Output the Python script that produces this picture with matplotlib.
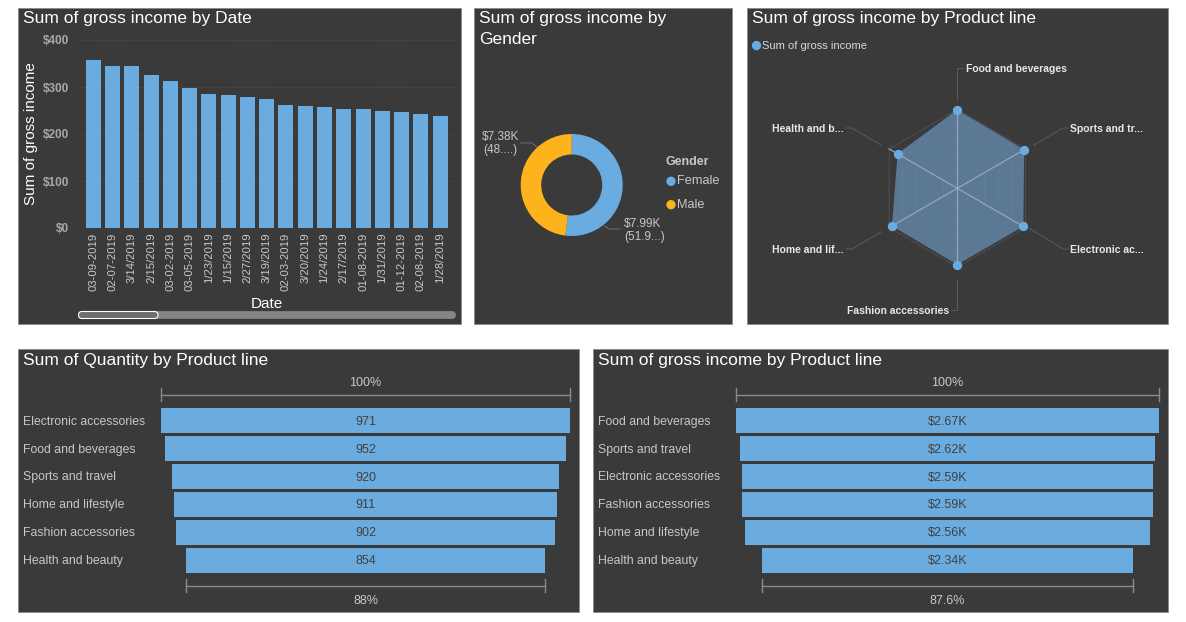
import numpy as np
import matplotlib
matplotlib.use('Agg')
import matplotlib.pyplot as plt
from matplotlib.patches import FancyBboxPatch, Rectangle

plt.rcParams['font.family'] = ['Liberation Sans', 'DejaVu Sans']

W = 1186
H = 622
PANEL = '#3A3A3A'
BLUE = '#6AACE0'
ORANGE = '#FDB41C'
LIGHT = '#C8C8C8'
TICK = '#A8A8A8'

dates = ['03-09-2019', '02-07-2019', '3/14/2019', '2/15/2019', '03-02-2019', '03-05-2019',
         '1/23/2019', '1/15/2019', '2/27/2019', '3/19/2019', '02-03-2019', '3/20/2019',
         '1/24/2019', '2/17/2019', '01-08-2019', '1/31/2019', '01-12-2019', '02-08-2019', '1/28/2019']
date_income = [356.7, 344.6, 343.9, 325.4, 312.6, 297, 285.6, 283.5, 279.2, 273.5,
               260.7, 260, 257.2, 253, 252.2, 249.4, 247.3, 242.3, 238.7]
y_ticks = [0, 100, 200, 300, 400]

genders = ['Female', 'Male']
gender_income = [7.99, 7.38]

radar_lines = ['Food and beverages', 'Sports and travel', 'Electronic accessories',
               'Fashion accessories', 'Home and lifestyle', 'Health and beauty']
radar_income = [2670, 2620, 2590, 2590, 2560, 2340]
radar_levels = [534, 1068, 1602, 2136, 2670]

qty_lines = ['Electronic accessories', 'Food and beverages', 'Sports and travel',
             'Home and lifestyle', 'Fashion accessories', 'Health and beauty']
qty_values = [971, 952, 920, 911, 902, 854]

income_lines = ['Food and beverages', 'Sports and travel', 'Electronic accessories',
                'Fashion accessories', 'Home and lifestyle', 'Health and beauty']
income_values = [2670, 2620, 2590, 2590, 2560, 2340]
income_labels = ['$2.67K', '$2.62K', '$2.59K', '$2.59K', '$2.56K', '$2.34K']

fig = plt.figure(figsize=(W / 100, H / 100), dpi=100, facecolor='white')


def px_axes(x0, y0, x1, y1, **kw):
    ax = fig.add_axes([x0 / W, 1 - y1 / H, (x1 - x0) / W, (y1 - y0) / H], **kw)
    ax.patch.set_alpha(0)
    return ax


# page layer in pixel coordinates, for panels and loose text
page = fig.add_axes([0, 0, 1, 1], zorder=-1)
page.set_xlim(0, W)
page.set_ylim(H, 0)
page.axis('off')

for x0, y0, x1, y1 in [(18, 8, 461, 324), (474, 8, 732, 324), (747, 8, 1168, 324),
                       (18, 349, 579, 612), (593, 349, 1168, 612)]:
    page.add_patch(Rectangle((x0, y0), x1 - x0, y1 - y0, fc=PANEL, ec='#8A8A8A', lw=0.6))

page.text(23, 19, 'Sum of gross income by Date', color='white', fontsize=12.5, va='center')
page.text(479, 19, 'Sum of gross income by', color='white', fontsize=12.5, va='center')
page.text(479, 39, 'Gender', color='white', fontsize=12.5, va='center')
page.text(752, 19, 'Sum of gross income by Product line', color='white', fontsize=12.5, va='center')
page.text(23, 360, 'Sum of Quantity by Product line', color='white', fontsize=12.5, va='center')
page.text(598, 360, 'Sum of gross income by Product line', color='white', fontsize=12.5, va='center')

# date bars
ax = px_axes(76, 40, 455, 228)
ax.bar(range(len(dates)), date_income, width=0.78, color=BLUE)
ax.set_xlim(-0.892, 18.77)
ax.set_ylim(0, 400)
ax.set_yticks(y_ticks)
ax.set_yticklabels(['$%d' % t for t in y_ticks], color=TICK, fontsize=8.5, fontweight='bold')
ax.set_xticks(range(len(dates)))
ax.set_xticklabels(dates, rotation=90, color=LIGHT, fontsize=8.1)
ax.tick_params(length=0, axis='y', pad=5)
ax.tick_params(length=0, axis='x', pad=3.5)
ax.grid(axis='y', color='#5A5A5A', linestyle=(0, (1, 3)), lw=0.7)
ax.set_axisbelow(True)
for s in ax.spines.values():
    s.set_visible(False)
ax.set_ylabel('Sum of gross income', color='white', fontsize=11, va='center')
ax.yaxis.set_label_coords((31 - 76) / 379, 0.5)
ax.set_xlabel('Date', color='white', fontsize=11, va='center')
ax.xaxis.set_label_coords((267 - 76) / 379, -(304 - 228) / 188)

# scrollbar
page.add_patch(FancyBboxPatch((79.5, 312.5), 375, 5, boxstyle='round,pad=0,rounding_size=2.5',
                              fc='#858585', ec='#858585', lw=2))
page.add_patch(FancyBboxPatch((78.5, 311.5), 79.5, 7, boxstyle='round,pad=0,rounding_size=3.5',
                              fc='#6E6E6E', ec='white', lw=0.8))

# donut
ax = px_axes(520.7, 134, 622.7, 236)
ax.pie(gender_income, colors=[BLUE, ORANGE], startangle=90, counterclock=False,
       wedgeprops={'width': 0.402})
ax.set_xlim(-1, 1)
ax.set_ylim(-1, 1)
page.text(482, 137, '$7.38K', color=LIGHT, fontsize=8.5, va='center')
page.text(483, 150, '(48....)', color=LIGHT, fontsize=8.5, va='center')
page.text(624, 224, '$7.99K', color=LIGHT, fontsize=8.5, va='center')
page.text(624, 237, '(51.9...)', color=LIGHT, fontsize=8.5, va='center')
page.plot([521, 532, 537], [143, 143, 147], color='#6A6A6A', lw=0.8)
page.plot([605, 609, 620], [226, 229, 229], color='#6A6A6A', lw=0.8)
page.text(665, 162, 'Gender', color=LIGHT, fontsize=9, fontweight='bold', va='center')
page.scatter([671, 671], [181.3, 204.7], s=45, c=[BLUE, ORANGE], lw=0)
page.text(677.5, 181.5, genders[0], color=LIGHT, fontsize=9.2, va='center')
page.text(677.5, 204.5, genders[1], color=LIGHT, fontsize=9.2, va='center')

# radar
ax = px_axes(957.3 - 88.4, 188.3 - 88.4, 957.3 + 88.4, 188.3 + 88.4, projection='polar')
theta = np.arange(len(radar_lines)) * 2 * np.pi / len(radar_lines)
theta_c = np.append(theta, theta[0])
vals_c = np.append(radar_income, radar_income[0])
ax.set_theta_zero_location('N')
ax.set_theta_direction(-1)
ax.set_ylim(0, 3000)
ax.grid(False)
ax.set_xticks([])
ax.set_yticks([])
ax.spines['polar'].set_visible(False)
ax.plot(theta_c, [radar_levels[-1]] * len(theta_c), color='#4F4F4F', lw=0.7)
ax.fill(theta_c, vals_c, color='#5B7894', lw=0)
for level in radar_levels[:-1]:
    ax.plot(theta_c, [level] * len(theta_c), color='#647F99', lw=0.6)
for t in theta:
    ax.plot([t, t], [0, 2670], color='#93A8BC', lw=0.9)
ax.scatter(theta, radar_income, s=45, color=BLUE, zorder=5, lw=0)

page.scatter([756], [45], s=45, color=BLUE, lw=0)
page.text(762, 46, 'Sum of gross income', color='#D8D8D8', fontsize=8, va='center')
for xs, ys in [([957, 957, 963], [100, 68, 68]), ([1034, 1063, 1068], [145, 128, 128]),
               ([1029, 1063, 1068], [228, 249, 249]), ([957, 957, 951], [280, 310, 310]),
               ([881, 852, 846], [232, 249, 249]), ([881, 852, 846], [145, 128, 128])]:
    page.plot(xs, ys, color='#5C5C5C', lw=0.7)
lab = dict(color='#E8E8E8', fontsize=7.45, fontweight='bold', va='center')
page.text(966, 69, 'Food and beverages', **lab)
page.text(1070, 129, 'Sports and tr...', **lab)
page.text(1070, 250, 'Electronic ac...', **lab)
page.text(949, 311, 'Fashion accessories', ha='right', **lab)
page.text(844, 250, 'Home and lif...', ha='right', **lab)
page.text(844, 129, 'Health and b...', ha='right', **lab)


def funnel(box, names, values, labels, name_x, low_pct):
    x0, x1 = box
    top = values[0]
    low = values[-1]
    ax = px_axes(x0, 406.8, x1, 574.2)
    ax.barh(range(len(values)), values, left=[-v / 2 for v in values], height=0.9, color=BLUE)
    ax.set_xlim(-top / 2, top / 2)
    ax.set_ylim(5.5, -0.5)
    ax.axis('off')
    for i, (name, label) in enumerate(zip(names, labels)):
        yp = 421.8 + 27.8 * i
        page.text(name_x, yp, name, color=LIGHT, fontsize=8.85, va='center')
        ax.text(0, i + 0.036, label, color='#404040', fontsize=9, ha='center', va='center')
    mid = (x0 + x1) / 2
    half = (x1 - x0) / 2 * low / top
    for a, b, y, txt, ty in [(x0, x1, 394.7, '100%', 382.5), (mid - half, mid + half, 585.7, low_pct, 601)]:
        page.plot([a, b], [y, y], color='#8A8A8A', lw=1)
        page.plot([a, a], [y - 6.5, y + 6.5], color='#8A8A8A', lw=1)
        page.plot([b, b], [y - 6.5, y + 6.5], color='#8A8A8A', lw=1)
        page.text(mid, ty, txt, color=LIGHT, fontsize=9, ha='center', va='center')


funnel((161, 570), qty_lines, qty_values, [str(v) for v in qty_values], 23, '88%')
funnel((736, 1159), income_lines, income_values, income_labels, 598, '87.6%')

page.set_xlim(0, W)
page.set_ylim(H, 0)
fig.savefig('out.png', dpi=100, facecolor='white')
